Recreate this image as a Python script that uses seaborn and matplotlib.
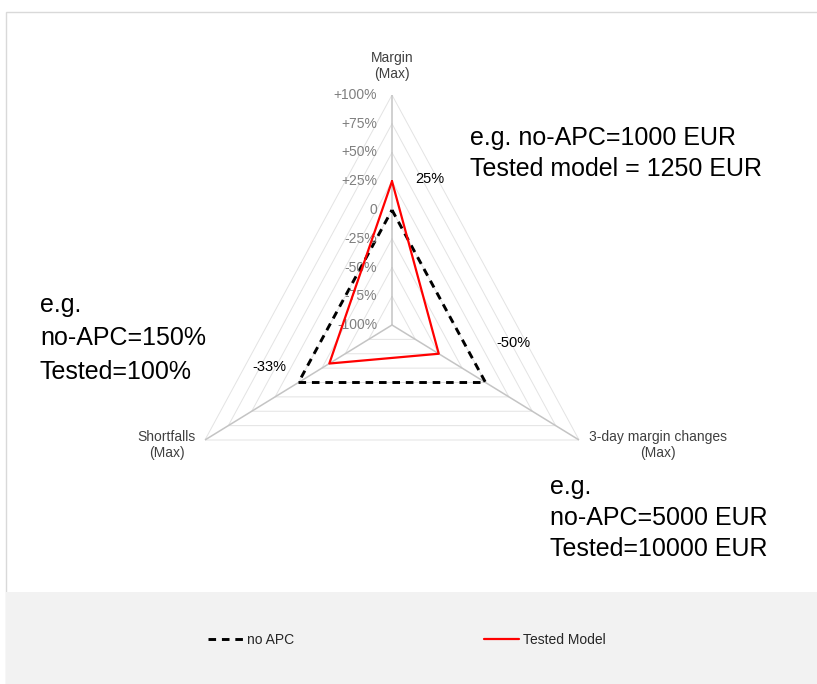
import numpy as np
import pandas as pd
import matplotlib
matplotlib.use('Agg')
import matplotlib.pyplot as plt
from matplotlib.patches import Rectangle
from matplotlib.transforms import offset_copy
import seaborn as sns

sns.set_style('white')
plt.rcParams['font.family'] = ['Liberation Sans', 'DejaVu Sans']

# data
axis_labels = ['Margin\n(Max)', '3-day margin changes\n(Max)', 'Shortfalls\n(Max)']
no_apc = [0, 0, 0]
tested_model = [25, -50, -33]
change_labels = ['25%', '-50%', '-33%']
tick_values = [100, 75, 50, 25, 0, -25, -50, -75, -100]
tick_labels = ['+100%', '+75%', '+50%', '+25%', '0', '-25%', '-50%', '-75%', '-100%']
grid_levels = [-75, -50, -25, 0, 25, 50, 75, 100]

angles = np.linspace(0, 2 * np.pi, len(axis_labels), endpoint=False)
closed = np.append(angles, angles[0])


def px(v):
    # pixels -> points at dpi 100
    return v * 0.72


fig = plt.figure(figsize=(8.17, 6.84), dpi=100)

# frame and grey legend band
fig.patches.append(Rectangle((6 / 817, 0), 1, 672 / 684, transform=fig.transFigure,
                             fill=False, edgecolor='#d9d9d9', lw=1, zorder=0))
fig.patches.append(Rectangle((6 / 817, 0), 1, 92 / 684, transform=fig.transFigure,
                             facecolor='#f2f2f2', edgecolor='none', zorder=0))

ax = fig.add_axes([(392 - 216) / 817, 129 / 684, 432 / 817, 460 / 684], projection='polar')
ax.set_aspect('auto')
ax.set_theta_zero_location('N')
ax.set_theta_direction(-1)
ax.set_ylim(-100, 100)
ax.grid(False)
ax.spines['polar'].set_visible(False)
ax.set_xticks([])
ax.set_yticks([])
ax.patch.set_alpha(0)

# triangular grid
for lvl in grid_levels:
    ax.plot(closed, [lvl] * len(closed), color='#e3e3e3', lw=0.7, zorder=1)
for a in angles:
    ax.plot([a, a], [-100, 100], color='#c4c4c4', lw=1.1, zorder=1)

df = pd.DataFrame({
    'theta': np.concatenate([closed, closed]),
    'r': no_apc + no_apc[:1] + tested_model + tested_model[:1],
    'series': ['no APC'] * len(closed) + ['Tested Model'] * len(closed),
})
sns.lineplot(data=df[df.series == 'no APC'], x='theta', y='r', sort=False, estimator=None,
             color='black', lw=2.1, ax=ax, label='no APC', zorder=3)
ax.lines[-1].set_dashes((2.6, 2.0))
sns.lineplot(data=df[df.series == 'Tested Model'], x='theta', y='r', sort=False, estimator=None,
             color='#ff0000', lw=1.6, ax=ax, label='Tested Model', zorder=4)
ax.set_xlabel('')
ax.set_ylabel('')
ax.set_ylim(-100, 100)
handles, labels = ax.get_legend_handles_labels()
ax.legend_.remove()

# radial tick labels along the top spoke
tick_tr = offset_copy(ax.transData, fig=fig, x=-px(15), y=0, units='points')
for v, lab in zip(tick_values, tick_labels):
    ax.text(0, v, lab, transform=tick_tr, ha='right', va='center',
            fontsize=10, color='#7f7f7f')

# axis labels
label_offsets = [(0, 29), (79, -5), (-38, -5)]
for a, lab, (dx, dy) in zip(angles, axis_labels, label_offsets):
    tr = offset_copy(ax.transData, fig=fig, x=px(dx), y=px(dy), units='points')
    ax.text(a, 100, lab, transform=tr, ha='center', va='center',
            fontsize=10, color='#404040', linespacing=1.15)

# change labels near the tested model points
value_offsets = [(38, 2), (75, 11), (-60, -3)]
for a, v, lab, (dx, dy) in zip(angles, tested_model, change_labels, value_offsets):
    tr = offset_copy(ax.transData, fig=fig, x=px(dx), y=px(dy), units='points')
    ax.text(a, v, lab, transform=tr, ha='center', va='center', fontsize=10.5, color='black')

# example annotations
fig.text(470 / 817, 1 - 153.5 / 684, 'e.g. no-APC=1000 EUR\nTested model = 1250 EUR',
         ha='left', va='center', fontsize=18, linespacing=1.36, color='black')
fig.text(40 / 817, 1 - 338 / 684, 'e.g.\nno-APC=150%\nTested=100%',
         ha='left', va='center', fontsize=18, linespacing=1.5, color='black')
fig.text(550 / 817, 1 - 518 / 684, 'e.g.\nno-APC=5000 EUR\nTested=10000 EUR',
         ha='left', va='center', fontsize=18, linespacing=1.39, color='black')

fig.legend(handles, labels, loc='center', bbox_to_anchor=(407 / 817, 1 - 640 / 684),
           ncol=2, frameon=False, fontsize=10, handlelength=2.5, handletextpad=0.3,
           columnspacing=13.7)

fig.savefig('out.png', dpi=100)
